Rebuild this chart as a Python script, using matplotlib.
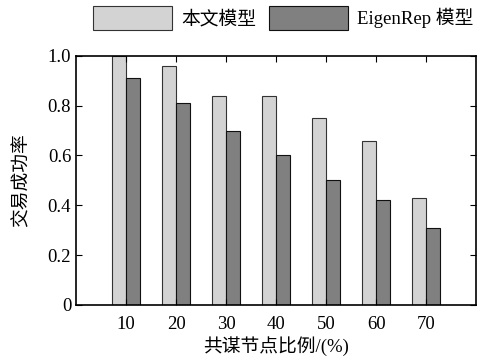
import numpy as np
import matplotlib
matplotlib.use('Agg')
from matplotlib import pyplot as plt

plt.rcParams['font.family'] = ['Liberation Serif', 'Noto Sans CJK SC']

# 共谋节点比例 vs 交易成功率
ratios = [10, 20, 30, 40, 50, 60, 70]
ours = [1.0, 0.96, 0.84, 0.84, 0.75, 0.66, 0.43]
eigenrep = [0.91, 0.81, 0.70, 0.60, 0.50, 0.42, 0.31]
yticks = [0, 0.2, 0.4, 0.6, 0.8, 1.0]
ytick_labels = ['0', '0.2', '0.4', '0.6', '0.8', '1.0']

fig = plt.figure(figsize=(4.81, 3.6), dpi=100)
ax = fig.add_axes([0.158, 0.153, 0.832, 0.692])

x = np.array(ratios)
w = 2.8
ax.bar(x - w / 2, ours, width=w, color='#d3d3d3', edgecolor='#333333',
       linewidth=0.8, label='本文模型')
ax.bar(x + w / 2, eigenrep, width=w, color='#808080', edgecolor='#111111',
       linewidth=0.8, label='EigenRep 模型')

ax.set_xlim(0, 80)
ax.set_ylim(0, 1.0)
ax.set_xticks(ratios)
ax.set_yticks(yticks)
ax.set_yticklabels(ytick_labels)
ax.tick_params(direction='in', top=True, right=True, length=4,
               labelsize=13.5, width=0.8)
ax.tick_params(axis='x', pad=8)
for s in ax.spines.values():
    s.set_linewidth(1.2)

ax.set_xlabel('共谋节点比例/(%)', fontsize=13.5, labelpad=2)
ax.set_ylabel('交易成功率', fontsize=13.5, labelpad=12)

fig.legend(loc='upper right', bbox_to_anchor=(1.02, 1.03), ncol=2,
           frameon=False, fontsize=13.5, handlelength=4.2, handleheight=1.6,
           columnspacing=0.7, handletextpad=0.5)

fig.savefig('out.png', dpi=100)
